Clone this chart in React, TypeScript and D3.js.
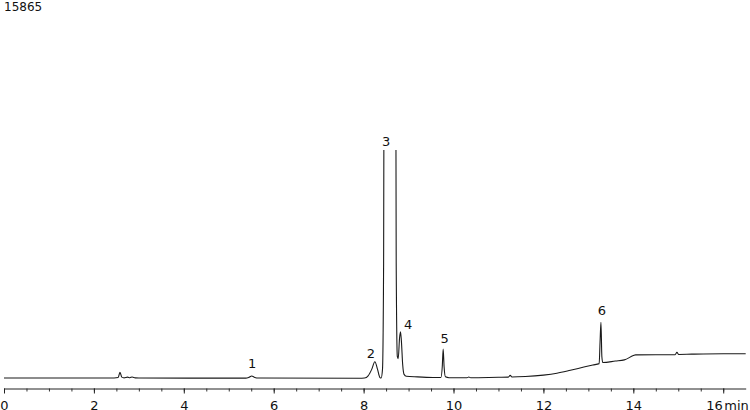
import { useEffect, useRef } from 'react'
import * as d3 from 'd3'

// chromatogram trace: [retention time (min), signal]
const trace: [number, number][] = [
  [0, 0], [2.45, 0], [2.54, 30], [2.58, 400], [2.62, 60], [2.67, 10],
  [2.75, 60], [2.8, 20], [2.85, 70], [2.92, 10], [3.0, 0],
  [5.38, -10], [5.45, 50], [5.51, 140], [5.58, 40], [5.66, 0],
  [7.9, -20], [8.02, 0], [8.1, 150], [8.18, 600], [8.25, 1130], [8.31, 600],
  [8.36, 50], [8.39, 0], [8.42, 600], [8.445, 8000], [8.465, 40000], [8.5, 60000],
  [8.68, 60000], [8.705, 40000], [8.725, 8000], [8.75, 1500], [8.77, 1350],
  [8.8, 2800], [8.82, 3220], [8.84, 2600], [8.87, 900], [8.9, 250], [8.95, 120],
  [9.2, 80], [9.6, 30], [9.72, 40], [9.75, 800], [9.77, 2020], [9.79, 800],
  [9.82, 80], [9.9, 20], [10.3, 20], [10.34, 70], [10.38, 20],
  [11.0, 50], [11.22, 60], [11.26, 180], [11.3, 70], [11.6, 100],
  [12.0, 200], [12.3, 330], [12.6, 536], [12.9, 760], [13.1, 905], [13.24, 1000],
  [13.26, 2500], [13.28, 3880], [13.3, 1500], [13.32, 1080], [13.6, 1180],
  [13.8, 1260], [14.0, 1560], [14.05, 1610], [14.93, 1620], [14.97, 1780],
  [15.01, 1640], [15.3, 1660], [16.0, 1690], [16.5, 1690],
]

const yMax = 15865
const peakNames = ['1', '2', '3', '4', '5', '6']
const peakLabelTimes = [5.52, 8.16, 8.5, 8.99, 9.8, 13.3]
const peakLabelValues = [700, 1390, 16150, 3410, 2440, 4380]
const majorTicks = [0, 2, 4, 6, 8, 10, 12, 14, 16]
const minorTicks = d3.range(0, 16.5, 0.5)

export default function App() {
  const svgRef = useRef<SVGSVGElement>(null)

  useEffect(() => {
    const width = 750,
      height = 410
    const axisY = 388.5

    const svg = d3.select(svgRef.current).attr('width', width).attr('height', height)
    svg.selectAll('*').remove()

    const x = d3.scaleLinear().domain([0, 16.5]).range([4, 745.7])
    const y = d3.scaleLinear().domain([0, yMax]).range([378, 150])

    svg
      .append('defs')
      .append('clipPath')
      .attr('id', 'plot-clip')
      .append('rect')
      .attr('x', 0)
      .attr('y', y(yMax))
      .attr('width', width)
      .attr('height', axisY - y(yMax))

    // y max label
    svg
      .append('text')
      .attr('x', 4)
      .attr('y', 11)
      .style('font-family', 'DejaVu Sans, Verdana, sans-serif')
      .style('font-size', '12px')
      .attr('fill', '#111')
      .text(String(yMax))

    const line = d3
      .line<[number, number]>()
      .x((d) => x(d[0]))
      .y((d) => y(d[1]))
      .curve(d3.curveMonotoneX)

    svg
      .append('path')
      .datum(trace)
      .attr('clip-path', 'url(#plot-clip)')
      .attr('d', line)
      .attr('fill', 'none')
      .attr('stroke', '#1a1a1a')
      .attr('stroke-width', 1.1)

    // peak numbers
    svg
      .append('g')
      .selectAll('text')
      .data(peakNames)
      .join('text')
      .attr('x', (_, i) => x(peakLabelTimes[i]))
      .attr('y', (_, i) => y(peakLabelValues[i]))
      .attr('text-anchor', 'middle')
      .style('font-family', 'DejaVu Sans, Verdana, sans-serif')
      .style('font-size', '13px')
      .attr('fill', '#111')
      .text((d) => d)

    // minor ticks
    svg
      .append('g')
      .attr('transform', `translate(0,${axisY})`)
      .call(d3.axisBottom(x).tickValues(minorTicks).tickSize(3).tickSizeOuter(0).tickFormat(() => ''))
      .call((g) => g.select('.domain').remove())
      .call((g) => g.selectAll('line').attr('stroke', '#333'))

    // major ticks and labels
    const ax = svg
      .append('g')
      .attr('transform', `translate(0,${axisY})`)
      .call(d3.axisBottom(x).tickValues(majorTicks).tickSize(5).tickSizeOuter(0).tickFormat(d3.format('d')))
    ax.select('.domain').attr('stroke', '#222')
    ax.selectAll('line').attr('stroke', '#222')
    ax.selectAll<SVGTextElement, number>('text')
      .attr('y', 21)
      .attr('dy', 0)
      .attr('fill', '#111')
      .style('font-family', 'DejaVu Sans, Verdana, sans-serif')
      .style('font-size', '13px')
      .filter((d) => d === 16)
      .attr('text-anchor', 'end')
      .attr('dx', -1)

    svg
      .append('text')
      .attr('x', x(16) + 1)
      .attr('y', axisY + 21)
      .style('font-family', 'DejaVu Sans, Verdana, sans-serif')
      .style('font-size', '13px')
      .attr('fill', '#111')
      .text('min')
  }, [])

  return <svg ref={svgRef} style={{ position: 'absolute', left: 0, top: 0, background: '#fff' }}></svg>
}
